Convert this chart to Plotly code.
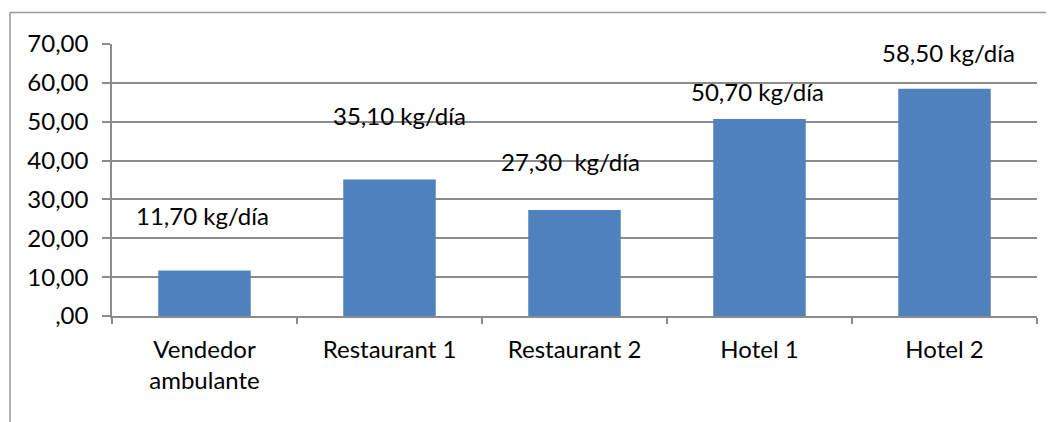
import plotly.graph_objects as go

categories = ["Vendedor<br>ambulante", "Restaurant 1", "Restaurant 2", "Hotel 1", "Hotel 2"]
values = [11.70, 35.10, 27.30, 50.70, 58.50]
labels = ["11,70 kg/día", "35,10 kg/día", "27,30\u00a0 kg/día", "50,70 kg/día", "58,50 kg/día"]
tick_vals = [0, 10, 20, 30, 40, 50, 60, 70]
tick_text = [",00", "10,00", "20,00", "30,00", "40,00", "50,00", "60,00", "70,00"]

# manual label offsets in pixels (x, y) relative to bar top, as in the original
label_shift_x = [-2.5, 10, -4.5, -2.5, 3.5]
label_shift_y = [55, 64, 48, 27, 36]

W, H = 1054, 422
OFF = 8  # page body margin
L, R, T, B = 112 - OFF, 17 + OFF, 44 - OFF, 106 + OFF
FONT = "Lato"
FS = 24
GRID = "#8c8c8c"

fig = go.Figure()
fig.add_trace(go.Bar(x=categories, y=values, marker=dict(color="#4F81BD", line=dict(width=0)),
                     hoverinfo="skip"))

for c, v, t, dx, dy in zip(categories, values, labels, label_shift_x, label_shift_y):
    fig.add_annotation(x=c, y=v, text=t, showarrow=False, xshift=dx, yshift=dy,
                       yanchor="middle", xanchor="center",
                       font=dict(family=FONT, size=FS, color="#000000"))

pw = W - L - R
ph = H - T - B
fx = lambda px: (px - OFF - L) / pw
fy = lambda py: (H - B - (py - OFF)) / ph
# outer chart frame (top and left edges visible)
fig.add_shape(type="line", xref="paper", yref="paper", x0=fx(10), x1=fx(1070), y0=fy(12.5), y1=fy(12.5),
              line=dict(color="#9a9a9a", width=1.5))
fig.add_shape(type="line", xref="paper", yref="paper", x0=fx(10), x1=fx(10), y0=fy(12.5), y1=fy(440),
              line=dict(color="#9a9a9a", width=1.5))

fig.update_layout(
    width=W, height=H,
    margin=dict(l=L, r=R, t=T, b=B),
    plot_bgcolor="white", paper_bgcolor="white",
    bargap=0.5, showlegend=False,
    font=dict(family=FONT, size=FS, color="#000000"),
    xaxis=dict(showgrid=False, showline=True, linecolor=GRID, linewidth=1.5,
               ticks="outside", tickson="boundaries", ticklen=6, tickcolor=GRID, tickwidth=1.5,
               ticklabelstandoff=11, tickfont=dict(family=FONT, size=FS), automargin=False),
    yaxis=dict(range=[0, 70], tickvals=tick_vals, ticktext=tick_text,
               showgrid=True, gridcolor=GRID, gridwidth=1.5,
               showline=True, linecolor=GRID, linewidth=1.5, zeroline=False,
               ticks="outside", ticklen=8, tickcolor=GRID, tickwidth=1.5,
               ticklabelstandoff=9, tickfont=dict(family=FONT, size=FS), automargin=False),
)

fig.write_html("out.html")
